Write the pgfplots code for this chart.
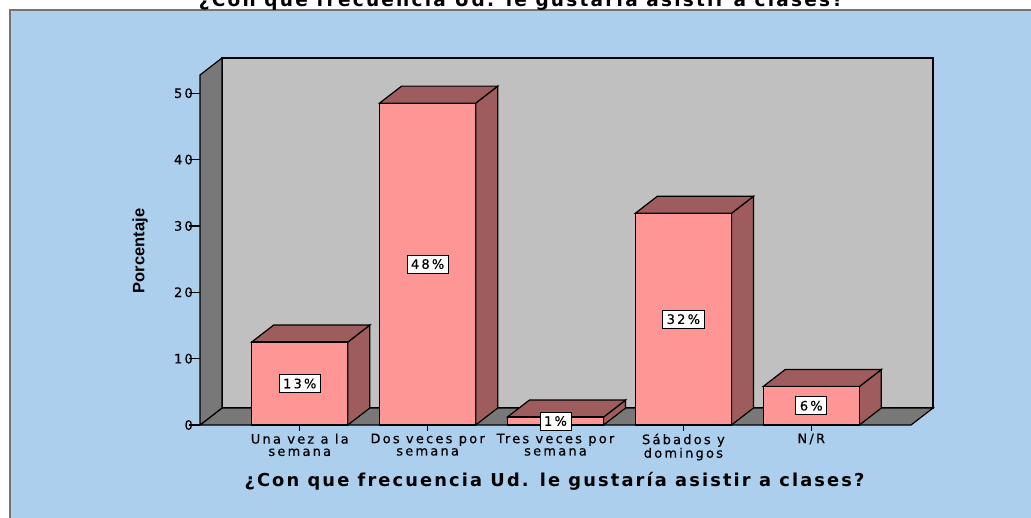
\documentclass[border=0pt]{standalone}
\usepackage{pgfplots}
\pgfplotsset{compat=1.18}
\usepackage{pgfplotstable}
\usepackage{fontspec}
\setmainfont{DejaVu Sans}
\newfontfamily\labelfont[LetterSpace=17,FakeBold=0.4]{DejaVu Sans}
\newfontfamily\titlefont[LetterSpace=12]{DejaVu Sans}
\newfontfamily\ylabfont{Liberation Sans}

\definecolor{bgblue}{RGB}{171,207,237}
\definecolor{wall}{RGB}{192,192,192}
\definecolor{darkwall}{RGB}{120,120,120}
\definecolor{barfront}{RGB}{255,150,150}
\definecolor{bardark}{RGB}{158,92,92}

\pgfplotstableread{
x y pct
0 12.5 13
1 48.5 48
2 1.2 1
3 31.9 32
4 5.8 6
}\datatable

\begin{document}
\begin{tikzpicture}
\useasboundingbox (0,0) rectangle (1031bp,-518bp);
\clip (0,0) rectangle (1031bp,-518bp);
\fill[white] (0,0) rectangle (1031bp,-518bp);
\fill[bgblue] (10bp,-10bp) rectangle (1045bp,-530bp);
\draw[black!55, line width=1.5bp] (10bp,-530bp) -- (10bp,-10bp) -- (1045bp,-10bp);
\node[anchor=base, font=\titlefont\bfseries\fontsize{18.5bp}{20bp}\selectfont] at (521bp,-6.5bp)
  {¿Con que frecuencia Ud. le gustaría asistir a clases?};

\begin{axis}[
  at={(200bp,-425bp)}, anchor=south west,
  scale only axis, width=733bp, height=367bp,
  xmin=-0.78, xmax=4.952, ymin=0, ymax=55.3,
  clip=false,
  axis line style={draw=none},
  xtick={0,1,2,3,4},
  xticklabels={{Una vez a la\\semana},{Dos veces por\\semana},{Tres veces por\\semana},{Sábados y\\domingos},{N/R}},
  ytick={0,10,20,30,40,50},
  xtick pos=bottom, ytick pos=left,
  tick align=outside, major tick length=6bp,
  tick style={black, line width=1.2bp},
  ytick style={/pgfplots/major tick length=11bp},
  tick label style={font=\labelfont\fontsize{13bp}{12.3bp}\selectfont, text=black},
  x tick label style={align=center, inner sep=2.5bp},
  y tick label style={inner sep=1bp},
  /pgf/number format/assume math mode=true,
]
% back wall
\addplot[fill=wall, draw=black, line width=1.2bp] coordinates {(-0.608,2.56) (4.952,2.56) (4.952,55.3) (-0.608,55.3)} -- cycle;
% floor
\addplot[fill=darkwall, draw=black, line width=1.2bp] coordinates {(-0.78,0) (4.78,0) (4.952,2.56) (-0.608,2.56)} -- cycle;
% left wall
\addplot[fill=darkwall, draw=black, line width=1.2bp] coordinates {(-0.78,0) (-0.78,52.74) (-0.608,55.3) (-0.608,2.56)} -- cycle;

% bar 1
\addplot[fill=bardark, draw=black, line width=1.2bp] coordinates {(0.376,0) (0.376,12.5) (0.548,15.06) (0.548,2.56)} -- cycle;
\addplot[fill=bardark, draw=black, line width=1.2bp] coordinates {(-0.376,12.5) (-0.204,15.06) (0.548,15.06) (0.376,12.5)} -- cycle;
% bar 2
\addplot[fill=bardark, draw=black, line width=1.2bp] coordinates {(1.376,0) (1.376,48.5) (1.548,51.06) (1.548,2.56)} -- cycle;
\addplot[fill=bardark, draw=black, line width=1.2bp] coordinates {(0.624,48.5) (0.796,51.06) (1.548,51.06) (1.376,48.5)} -- cycle;
% bar 3
\addplot[fill=bardark, draw=black, line width=1.2bp] coordinates {(2.376,0) (2.376,1.2) (2.548,3.76) (2.548,2.56)} -- cycle;
\addplot[fill=bardark, draw=black, line width=1.2bp] coordinates {(1.624,1.2) (1.796,3.76) (2.548,3.76) (2.376,1.2)} -- cycle;
% bar 4
\addplot[fill=bardark, draw=black, line width=1.2bp] coordinates {(3.376,0) (3.376,31.9) (3.548,34.46) (3.548,2.56)} -- cycle;
\addplot[fill=bardark, draw=black, line width=1.2bp] coordinates {(2.624,31.9) (2.796,34.46) (3.548,34.46) (3.376,31.9)} -- cycle;
% bar 5
\addplot[fill=bardark, draw=black, line width=1.2bp] coordinates {(4.376,0) (4.376,5.8) (4.548,8.36) (4.548,2.56)} -- cycle;
\addplot[fill=bardark, draw=black, line width=1.2bp] coordinates {(3.624,5.8) (3.796,8.36) (4.548,8.36) (4.376,5.8)} -- cycle;

% front faces
\addplot[ybar, bar width=0.752, bar shift=0pt, fill=barfront, draw=black, line width=1.2bp]
  table[x=x, y=y] {\datatable};

% labels
\addplot[only marks, mark=*, mark size=0pt, draw=none,
  point meta=explicit,
  nodes near coords={\pgfmathprintnumber{\pgfplotspointmeta}\%},
  nodes near coords style={anchor=center, fill=white, draw=black, line width=0.8bp,
     font=\labelfont\fontsize{13bp}{14bp}\selectfont, inner xsep=4bp, inner ysep=4bp, text=black}]
  table[x=x, y expr=\thisrow{y}/2, meta=pct] {\datatable};
\end{axis}

\node[rotate=90, font=\ylabfont\bfseries\fontsize{16.5bp}{18bp}\selectfont] at (140bp,-251bp) {Porcentaje};
\node[anchor=base, font=\titlefont\bfseries\fontsize{17.8bp}{19bp}\selectfont] at (554.5bp,-486bp)
  {¿Con que frecuencia Ud. le gustaría asistir a clases?};
\end{tikzpicture}
\end{document}
